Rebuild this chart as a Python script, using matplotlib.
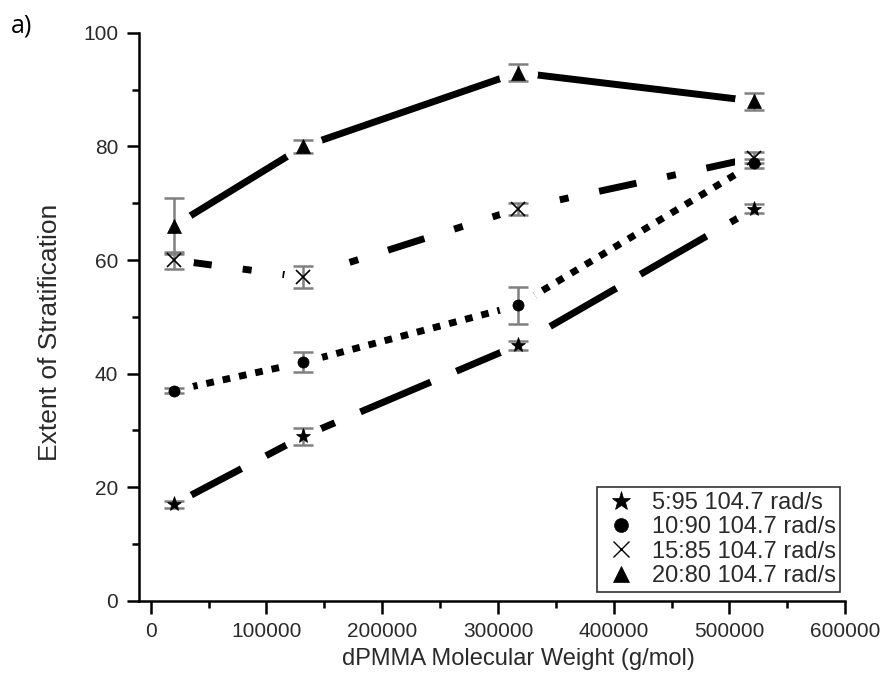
import matplotlib
matplotlib.use("Agg")
import matplotlib.pyplot as plt
from matplotlib.lines import Line2D
from matplotlib.ticker import MultipleLocator

plt.rcParams['font.family'] = ['Liberation Sans', 'DejaVu Sans']
plt.rcParams['font.size'] = 15

# === Données ===
poids_mol = [20000, 132000, 317000, 521000]

etoile_95 = [17, 29, 45, 69]
etoile_err = [0.6, 1.5, 0.8, 0.8]
rond_90 = [37, 42, 52, 77]
rond_err = [0.5, 1.8, 3.2, 0.8]
croix_85 = [60, 57, 69, 78]
croix_err = [1.5, 2.0, 1.0, 1.0]
tri_80 = [66, 80, 93, 88]
tri_err = [5.0, 1.2, 1.5, 1.5]

etiquettes = ["5:95 104.7 rad/s", "10:90 104.7 rad/s",
              "15:85 104.7 rad/s", "20:80 104.7 rad/s"]

ticks_x = [0, 100000, 200000, 300000, 400000, 500000, 600000]
ticks_y = [0, 20, 40, 60, 80, 100]

# === Figure ===
fig = plt.figure(figsize=(8.86, 6.85), dpi=100)
ax = fig.add_axes([0.157, 0.123, 0.797, 0.829])

series = [
    (etoile_95, etoile_err, '*', 11, (0, (11, 4))),
    (rond_90, rond_err, 'o', 8, (0, (1.1, 1.3))),
    (croix_85, croix_err, 'x', 10, (0, (5.5, 4.5, 1.3, 4.5))),
    (tri_80, tri_err, '^', 10, '-'),
]

for y, err, mk, ms, ls in series:
    ax.plot(poids_mol, y, color='black', lw=5, linestyle=ls,
            dash_capstyle='butt', solid_capstyle='butt', zorder=1)
    # halo blanc : coupure des lignes autour des marqueurs (style Origin)
    ax.plot(poids_mol, y, linestyle='none', marker='o', ms=27,
            mfc='white', mec='white', zorder=2)
    ax.errorbar(poids_mol, y, yerr=err, fmt='none', ecolor='#808080',
                elinewidth=1.8, capsize=7, capthick=1.8, zorder=3)
    ax.plot(poids_mol, y, linestyle='none', marker=mk, ms=ms,
            color='black', mew=1.2 if mk == 'x' else 0.5, zorder=4)

ax.set_xlim(-10000, 600000)
ax.set_ylim(0, 100)
ax.set_xticks(ticks_x)
ax.set_yticks(ticks_y)
ax.xaxis.set_minor_locator(MultipleLocator(50000))
ax.yaxis.set_minor_locator(MultipleLocator(10))
ax.ticklabel_format(axis='x', style='plain', useOffset=False)

for s in ['top', 'right']:
    ax.spines[s].set_visible(False)
for s in ['left', 'bottom']:
    ax.spines[s].set_linewidth(1.8)
ax.tick_params(which='major', direction='out', length=9, width=1.8, pad=6,
               labelsize=15, labelcolor='#2a2a2a')
ax.tick_params(which='minor', direction='out', length=5, width=1.8)

ax.set_xlabel("dPMMA Molecular Weight (g/mol)", fontsize=17,
              color='#2a2a2a')
ax.set_ylabel("Extent of Stratification", fontsize=19,
              color='#2a2a2a')
ax.xaxis.set_label_coords(0.537, -0.083)
ax.yaxis.set_label_coords(-0.109, 0.472)

marqueurs = [('*', 14), ('o', 10), ('x', 12), ('^', 12)]
poignees = [Line2D([], [], linestyle='none', marker=m, ms=t, color='black',
                   mew=1 if m == 'x' else 0.5, mfc='black')
            for m, t in marqueurs]
leg = ax.legend(poignees, etiquettes, loc='lower right',
                bbox_to_anchor=(0.993, 0.016), fontsize=17,
                frameon=True, fancybox=False, edgecolor='black',
                borderaxespad=0, handletextpad=0.5, labelspacing=0.1,
                borderpad=0.2, handlelength=1.6)
leg.get_frame().set_linewidth(1.2)
for t in leg.get_texts():
    t.set_color('#2a2a2a')

fig.text(0.012, 0.952, "a)", fontsize=18, family=['Open Sans', 'DejaVu Sans'])

fig.canvas.draw()
for t in ax.get_xticklabels() + ax.get_yticklabels():
    t.set_fontsize(15)
    t.set_color('#2a2a2a')

fig.savefig("out.png", dpi=100)
